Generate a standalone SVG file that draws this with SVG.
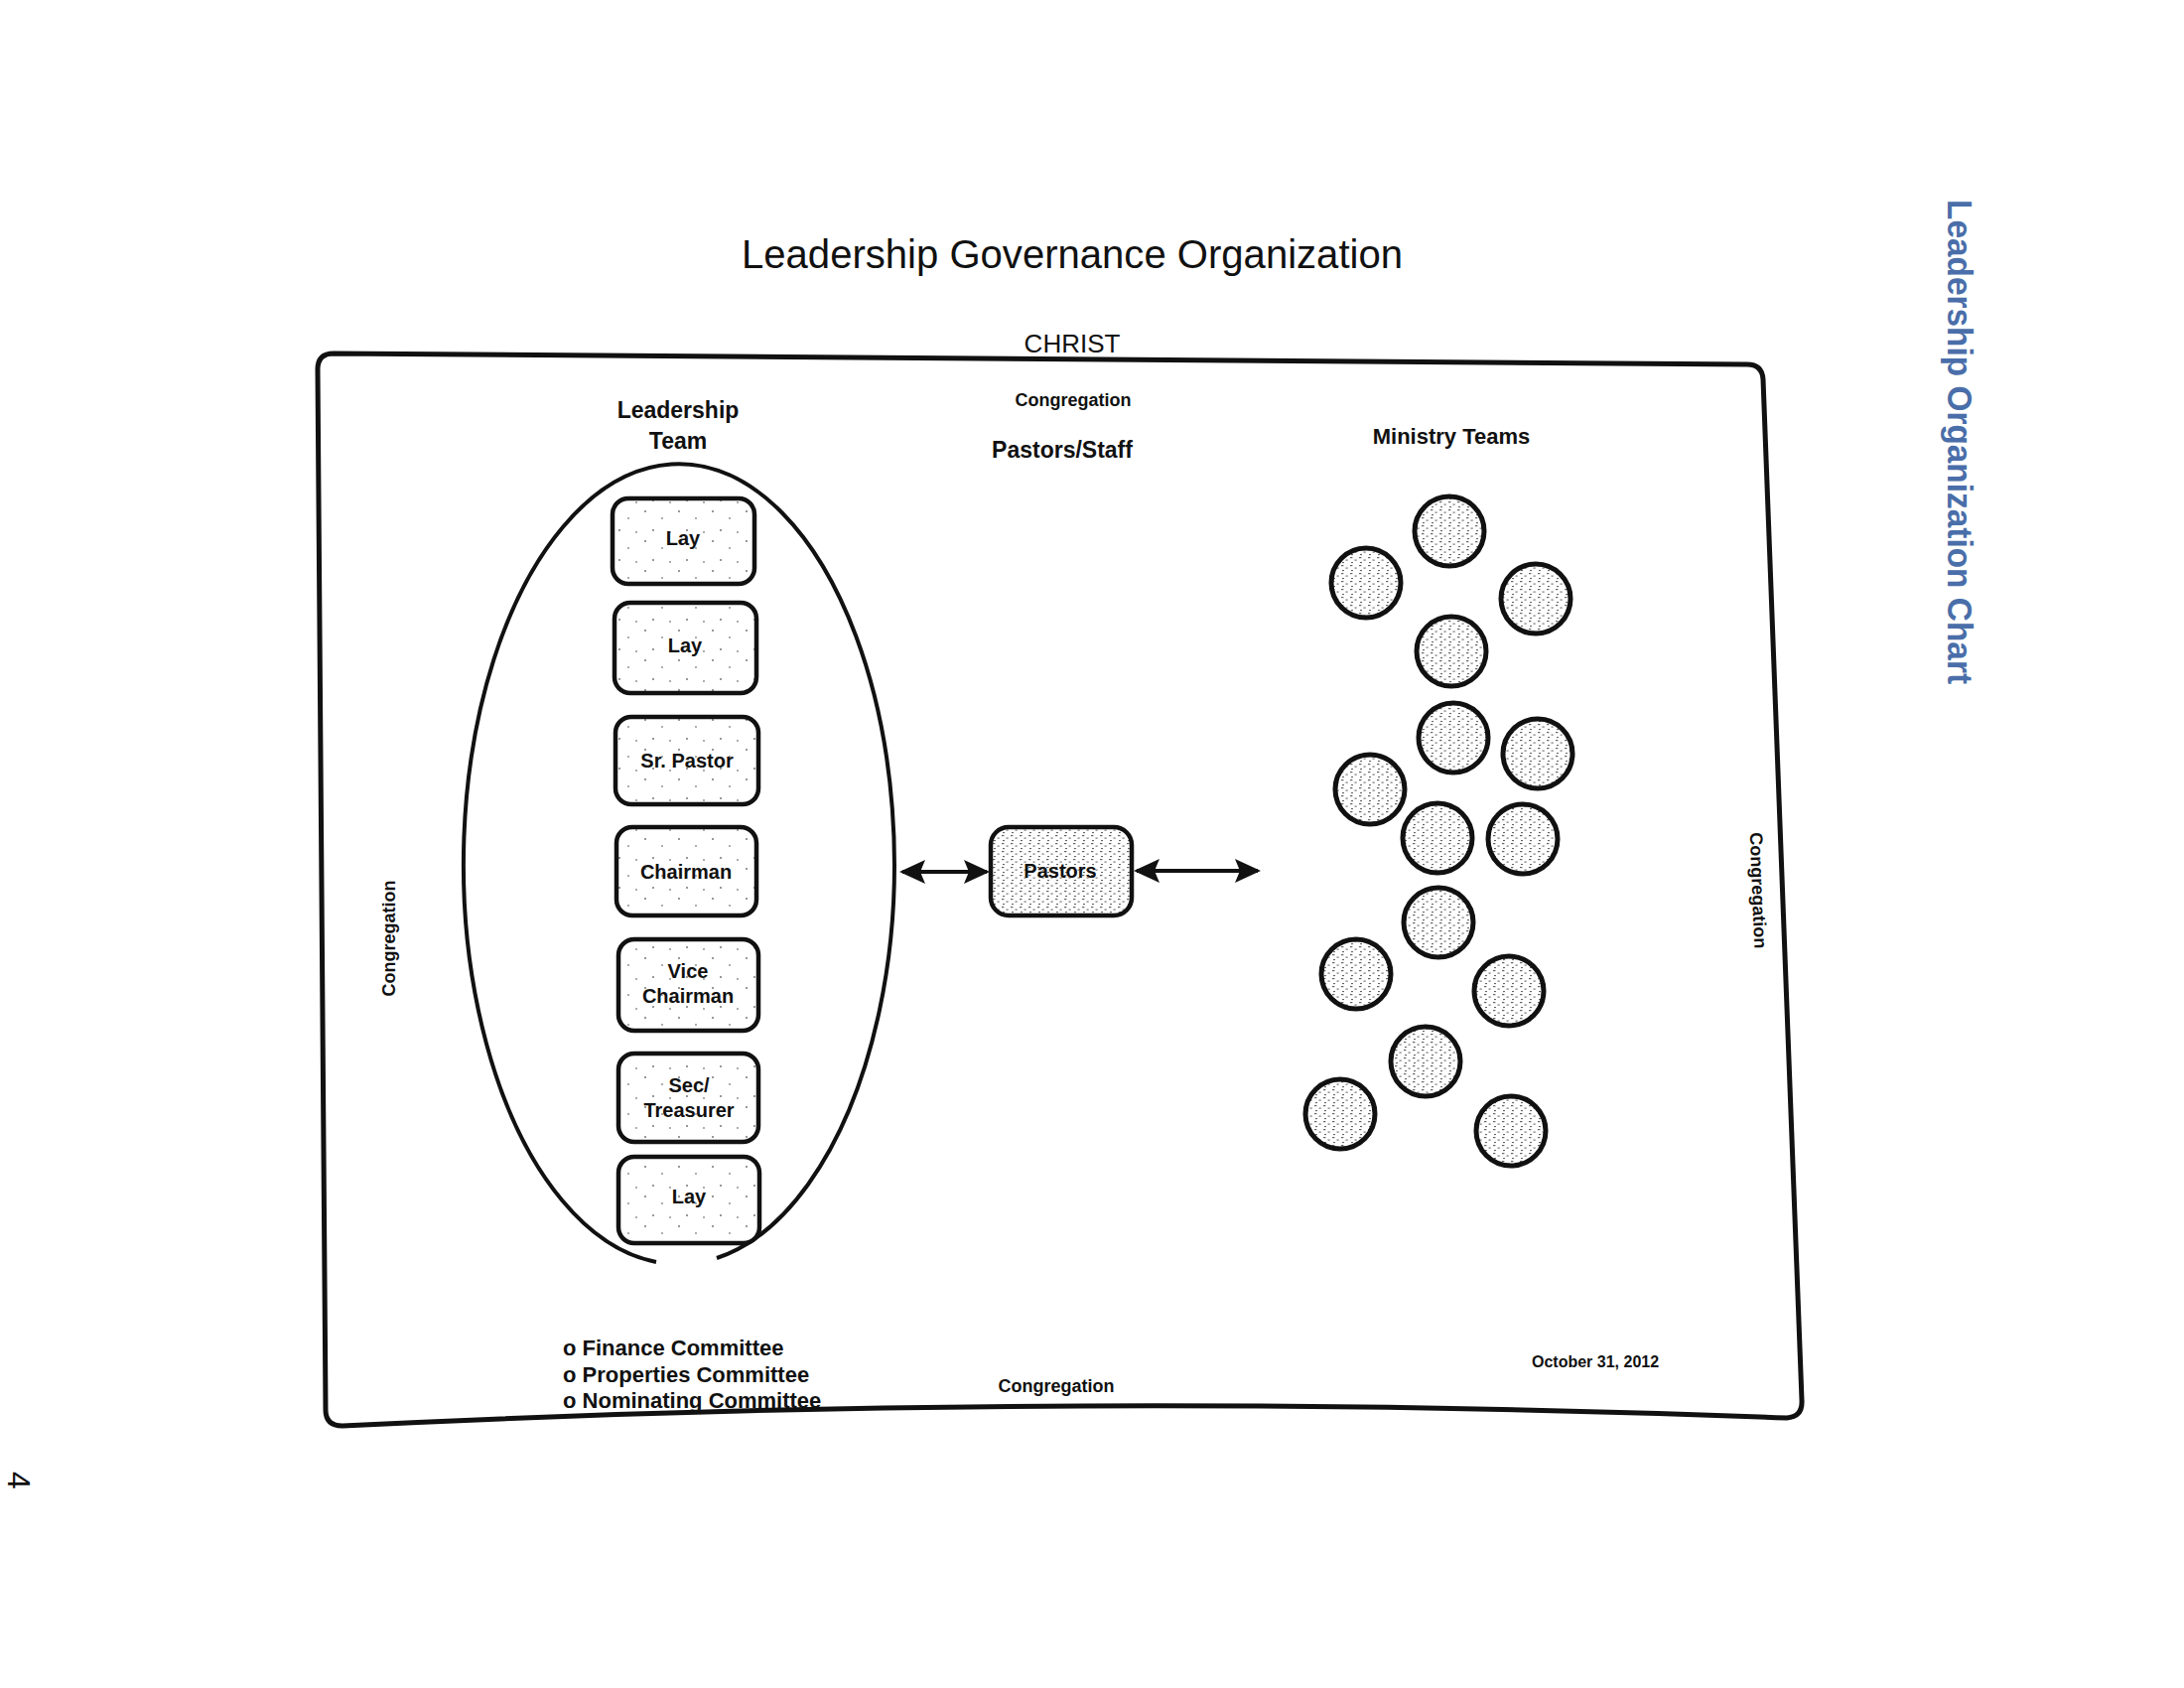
<svg xmlns="http://www.w3.org/2000/svg" width="2200" height="1700" viewBox="0 0 2200 1700">
<defs>
<style>
.t{font-family:"Liberation Sans",Arial,sans-serif;fill:#111}
.b{font-weight:bold}
.m{text-anchor:middle}
.box{stroke:#111;stroke-width:4.5}
.lt{fill:url(#light)}
.dn{fill:url(#dense)}
.team{stroke:#111;stroke-width:5;fill:url(#dense)}
.conn{stroke:#111;stroke-width:4;fill:none}
</style>
<pattern id="light" width="34" height="30" patternUnits="userSpaceOnUse">
<rect width="34" height="30" fill="#fff"/>
<circle cx="4" cy="5" r="1" fill="#777"/>
<circle cx="21" cy="12" r="0.9" fill="#888"/>
<circle cx="12" cy="24" r="1" fill="#777"/>
<circle cx="29" cy="26" r="0.9" fill="#888"/>
</pattern>
<pattern id="dense" width="9" height="8" patternUnits="userSpaceOnUse">
<rect width="9" height="8" fill="#fff"/>
<rect x="1" y="1" width="2.4" height="1.2" fill="#666"/>
<rect x="5.5" y="3.5" width="2.2" height="1.2" fill="#777"/>
<rect x="2" y="6" width="2" height="1.1" fill="#666"/>
</pattern>
<marker id="ah" viewBox="0 0 26 24" refX="23" refY="12" markerWidth="26" markerHeight="24" markerUnits="userSpaceOnUse" orient="auto-start-reverse">
<path d="M0,0 L26,12 L0,24 L5,12 Z" fill="#111"/>
</marker>
</defs>
<rect width="2200" height="1700" fill="#fff"/>

<g id="frame">
<path d="M336,356 L1760,367 Q1775,367 1776,382 L1815,1410 Q1816,1427 1800,1428 Q1070,1400 345,1436 Q328,1436 328,1420 L320,372 Q320,356 336,356 Z" fill="none" stroke="#111" stroke-width="5"/>
</g>

<g id="titles">
<text class="t m" x="1080" y="270" font-size="41" textLength="666" lengthAdjust="spacingAndGlyphs">Leadership Governance Organization</text>
<text class="t m" x="1080" y="355" font-size="26">CHRIST</text>
<text class="t b m" x="1081" y="409" font-size="18">Congregation</text>
<text class="t b m" x="1070" y="461" font-size="23">Pastors/Staff</text>
<text class="t b m" x="683" y="421" font-size="23">Leadership</text>
<text class="t b m" x="683" y="452" font-size="23">Team</text>
<text class="t b m" x="1462" y="447" font-size="22">Ministry Teams</text>
<text class="t b m" transform="translate(398,945) rotate(-90)" font-size="18">Congregation</text>
<text class="t b m" transform="translate(1765,897) rotate(87.7)" font-size="18">Congregation</text>
<text class="t b m" x="1064" y="1402" font-size="18">Congregation</text>
<text class="t b" x="567" y="1365" font-size="22">o Finance Committee</text>
<text class="t b" x="567" y="1392" font-size="22">o Properties Committee</text>
<text class="t b" x="567" y="1418" font-size="22">o Nominating Committee</text>
<text class="t b" x="1543" y="1377" font-size="16">October 31, 2012</text>
<text class="b m" transform="translate(1962,445) rotate(90)" font-family="'Liberation Sans',Arial,sans-serif" font-size="35" fill="#4a6ea9" textLength="488" lengthAdjust="spacingAndGlyphs">Leadership Organization Chart</text>
<text class="t m" transform="translate(8,1491) rotate(90)" font-size="32">4</text>
</g>

<g id="leadership-team">
<path d="M661,1271 A217,403 0 1 1 722,1267" fill="none" stroke="#111" stroke-width="4"/>
</g>

<g id="lay1"><rect class="box lt" x="617" y="502" width="143" height="86" rx="16"/><text class="t b m" x="688" y="549" font-size="20">Lay</text></g>
<g id="lay2"><rect class="box lt" x="619" y="607" width="143" height="91" rx="16"/><text class="t b m" x="690" y="657" font-size="20">Lay</text></g>
<g id="sr-pastor"><rect class="box lt" x="620" y="722" width="144" height="88" rx="16"/><text class="t b m" x="692" y="773" font-size="20">Sr. Pastor</text></g>
<g id="chairman"><rect class="box lt" x="621" y="833" width="141" height="89" rx="16"/><text class="t b m" x="691" y="885" font-size="20">Chairman</text></g>
<g id="vice-chairman"><rect class="box lt" x="623" y="946" width="141" height="92" rx="16"/><text class="t b m" x="693" y="985" font-size="20">Vice</text><text class="t b m" x="693" y="1010" font-size="20">Chairman</text></g>
<g id="sec-treasurer"><rect class="box lt" x="623" y="1061" width="141" height="89" rx="16"/><text class="t b m" x="694" y="1100" font-size="20">Sec/</text><text class="t b m" x="694" y="1125" font-size="20">Treasurer</text></g>
<g id="lay3"><rect class="box lt" x="623" y="1165" width="142" height="87" rx="16"/><text class="t b m" x="694" y="1212" font-size="20">Lay</text></g>

<g id="pastors"><rect class="box dn" x="998" y="833" width="142" height="89" rx="18"/><text class="t b m" x="1068" y="884" font-size="20">Pastors</text></g>

<g id="ministry-teams">
<circle class="team" cx="1460" cy="535" r="35"/>
<circle class="team" cx="1376" cy="587" r="35"/>
<circle class="team" cx="1547" cy="603" r="35"/>
<circle class="team" cx="1462" cy="656" r="35"/>
<circle class="team" cx="1464" cy="743" r="35"/>
<circle class="team" cx="1549" cy="759" r="35"/>
<circle class="team" cx="1380" cy="795" r="35"/>
<circle class="team" cx="1448" cy="844" r="35"/>
<circle class="team" cx="1534" cy="845" r="35"/>
<circle class="team" cx="1449" cy="929" r="35"/>
<circle class="team" cx="1366" cy="981" r="35"/>
<circle class="team" cx="1520" cy="998" r="35"/>
<circle class="team" cx="1436" cy="1069" r="35"/>
<circle class="team" cx="1350" cy="1122" r="35"/>
<circle class="team" cx="1522" cy="1139" r="35"/>
</g>

<g id="connectors">
<line class="conn" x1="909" y1="878" x2="994" y2="878" marker-start="url(#ah)" marker-end="url(#ah)"/>
<line class="conn" x1="1145" y1="877" x2="1267" y2="877" marker-start="url(#ah)" marker-end="url(#ah)"/>
</g>
</svg>
